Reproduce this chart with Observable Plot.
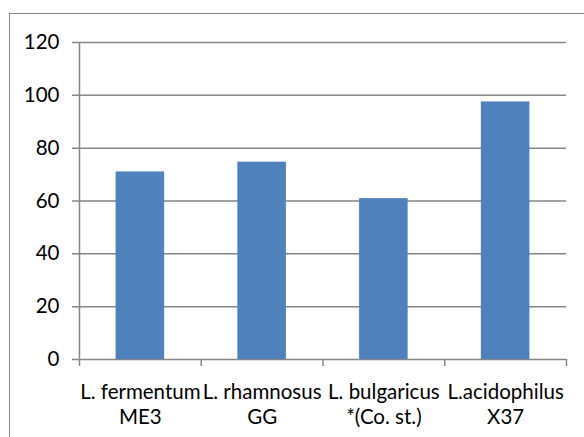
<!DOCTYPE html>
<html>
<head>
<meta charset="utf-8">
<script src="https://cdn.jsdelivr.net/npm/d3@7"></script>
<script src="https://cdn.jsdelivr.net/npm/@observablehq/plot@0.6"></script>
<style>
  html, body { margin: 0; padding: 0; background: #fff; }
  #wrap { position: relative; width: 584px; height: 437px; overflow: hidden; background: #fff; }
  #border { position: absolute; left: 9px; top: 13px; width: 700px; height: 600px;
            border-left: 1px solid #868686; border-top: 1px solid #868686; box-sizing: border-box; }
  #chart { position: absolute; left: 0; top: 0; }
</style>
</head>
<body>
<div id="wrap"><div id="border"></div><div id="chart"></div></div>
<script>
const categories = ["L. fermentum\nME3", "L. rhamnosus\nGG", "L. bulgaricus\n*(Co. st.)", "L.acidophilus\nX37"];
const values = [71, 74.7, 60.9, 97.5];
const yTicks = [0, 20, 40, 60, 80, 100, 120];
const boundaries = [1, 2, 3, 4];

const data = categories.map((name, i) => ({name, value: values[i], i}));
const gray = "#868686";

const plot = Plot.plot({
  width: 584,
  height: 437,
  marginLeft: 79,
  marginRight: 18,
  marginTop: 42,
  marginBottom: 78,
  style: {fontFamily: "Lato, 'Open Sans', sans-serif", fontSize: "20.5px", color: "#000", background: "transparent"},
  x: {type: "linear", domain: [0, 4], axis: null},
  y: {domain: [0, 120], axis: null},
  marks: [
    Plot.ruleY(yTicks, {y: d => d, stroke: gray, strokeWidth: 1.5, insetLeft: -7}),
    Plot.ruleX([0], {stroke: gray, strokeWidth: 1.5, insetBottom: -7}),
    Plot.ruleX(boundaries, {x: d => d, y1: 0, y2: 0, stroke: gray, strokeWidth: 1.5, insetBottom: -7}),
    Plot.rectY(data, {x1: "i", x2: d => d.i + 1, y: "value", fill: "#4F81BD", insetLeft: 36.6, insetRight: 36.6}),
    Plot.text(yTicks, {x: 0, y: d => d, text: d => String(d), textAnchor: "end", dx: -20, fill: "#000"}),
    Plot.text(data, {x: d => d.i + 0.5, y: 0, text: "name", lineAnchor: "top", dy: 21.5, lineHeight: 1.22, fill: "#000"})
  ]
});
document.getElementById("chart").appendChild(plot);
</script>
</body>
</html>
